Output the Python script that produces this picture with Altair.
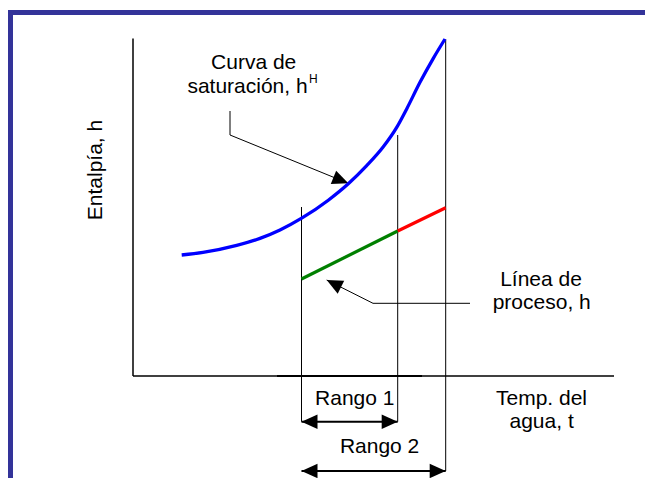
import altair as alt
import pandas as pd

# ---------------- data (t = water temperature axis, h = enthalpy axis) ----------------
# Saturation curve h^H(t)
sat_t = [48.7, 70, 103.7, 127, 147, 168.7, 195.3, 215.3, 233.7, 250.3, 263.7, 273.7, 287, 300.3, 312]
sat_h = [121, 123.6, 130.6, 137.6, 146.0, 157.8, 175.8, 192.2, 210.3, 229.2, 248.6, 267.1, 293.7, 317.7, 337]

# Process line h(t): start, end of range 1, end of range 2
proc_t = [168.5, 264.7, 312.7]
proc_h = [97, 145, 168.3]
proc_colors = ["#008000", "#ff0000"]

# Range levels (below the t axis)
range1_h = -45.7
range2_h = -95

# Guide / axis / frame segments
seg_t = [168.5, 264.7, 312.7, 0, 0, 144, 168.5, 168.5, -122.5, -125]
seg_t2 = [168.5, 264.7, 312.7, 0, 481, 289, 264.7, 312.7, -122.5, 512]
seg_h = [169, 241, 336.7, 0, 0, 0, range1_h, range2_h, 366, 363.5]
seg_h2 = [range1_h, range1_h, range2_h, 337.5, 0, 0, range1_h, range2_h, -102, 363.5]
seg_w = [1, 1, 1, 1.5, 1.5, 2, 2, 2, 5, 5]
seg_c = ["#000000"] * 8 + ["#333399", "#333399"]

# Callout leader lines
call_id = ["c1", "c1", "c1", "c2", "c2", "c2"]
call_t = [97, 97, 215.3, 337, 240, 193.7]
call_h = [265, 241, 192.7, 72.7, 72.7, 96]

# Arrowheads (tip position, direction in degrees clockwise)
head_t = [215.3, 193.7, 168.5, 264.7, 168.5, 312.7]
head_h = [192.7, 96, range1_h, range1_h, range2_h, range2_h]
head_a = [22, 207, 180, 0, 180, 0]

# Labels
lab_text = ["Curva de", "saturación, h", "Línea de", "proceso, h", "Temp. del", "agua, t", "Rango 1", "Rango 2"]
lab_t = [120.7, 114.5, 408, 408.7, 408.5, 408.6, 221.8, 246.6]
lab_h = [306.7, 282.7, 90.5, 67, -29, -52.3, -29, -77.3]
sup_text = ["H"]
sup_t = [176]
sup_h = [292.7]
ylab_text = ["Entalpía, h"]
ylab_t = [-31]
ylab_h = [206]

# ---------------- chart ----------------
FONT = "Liberation Sans"
xs = alt.Scale(domain=[-125, 512], nice=False, zero=False)
ys = alt.Scale(domain=[-102, 368], nice=False, zero=False)
X = lambda f="t": alt.X(f"{f}:Q", scale=xs, axis=None)
Y = lambda f="h": alt.Y(f"{f}:Q", scale=ys, axis=None)

segs = pd.DataFrame({"t": seg_t, "t2": seg_t2, "h": seg_h, "h2": seg_h2, "w": seg_w, "c": seg_c})
rules = alt.Chart(segs).mark_rule(strokeCap="butt").encode(
    x=X(), x2="t2:Q", y=Y(), y2="h2:Q",
    strokeWidth=alt.StrokeWidth("w:Q", scale=None),
    color=alt.Color("c:N", scale=None),
)

calls = pd.DataFrame({"id": call_id, "t": call_t, "h": call_h, "o": list(range(len(call_t)))})
callouts = alt.Chart(calls).mark_line(color="black", strokeWidth=1).encode(
    x=X(), y=Y(), detail="id:N", order="o:Q"
)

sat = pd.DataFrame({"t": sat_t, "h": sat_h})
curve = alt.Chart(sat).mark_line(color="#0000ff", strokeWidth=3.3, interpolate="monotone").encode(
    x=X(), y=Y()
)

proc = pd.DataFrame({
    "t": proc_t[:-1], "t2": proc_t[1:], "h": proc_h[:-1], "h2": proc_h[1:], "c": proc_colors
})
process = alt.Chart(proc).mark_rule(strokeWidth=3.2).encode(
    x=X(), x2="t2:Q", y=Y(), y2="h2:Q", color=alt.Color("c:N", scale=None)
)

heads = pd.DataFrame({"t": head_t, "h": head_h, "a": head_a})
arrowheads = alt.Chart(heads).mark_point(
    shape="M0,0L-2,-0.9L-2,0.9Z", filled=True, size=256, color="black", opacity=1, strokeWidth=0
).encode(x=X(), y=Y(), angle=alt.Angle("a:Q", scale=None))

labs = pd.DataFrame({"label": lab_text, "t": lab_t, "h": lab_h})
labels = alt.Chart(labs).mark_text(
    font=FONT, fontSize=21, align="center", baseline="alphabetic", color="black"
).encode(x=X(), y=Y(), text="label:N")

sups = pd.DataFrame({"label": sup_text, "t": sup_t, "h": sup_h})
sup = alt.Chart(sups).mark_text(
    font=FONT, fontSize=12, align="left", baseline="alphabetic", color="black"
).encode(x=X(), y=Y(), text="label:N")

ylabs = pd.DataFrame({"label": ylab_text, "t": ylab_t, "h": ylab_h})
ylab = alt.Chart(ylabs).mark_text(
    font=FONT, fontSize=21, align="center", baseline="alphabetic", angle=270, color="black"
).encode(x=X(), y=Y(), text="label:N")

chart = alt.layer(
    rules, callouts, arrowheads, curve, process, labels, sup, ylab
).properties(
    width=637, height=470, padding=0,
    autosize=alt.AutoSizeParams(type="none"),
    background="white",
).configure_view(stroke=None)

chart.save("out.html", embed_options={"renderer": "svg", "actions": False})
